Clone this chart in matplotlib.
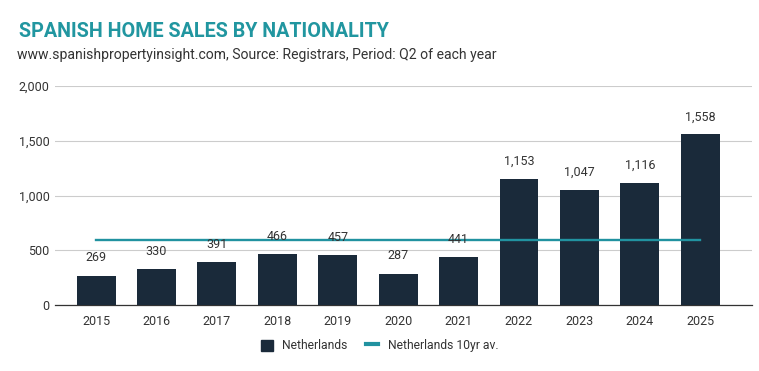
import matplotlib
matplotlib.use("Agg")
import matplotlib.pyplot as plt
from matplotlib.lines import Line2D
from matplotlib.patches import Patch

plt.rcParams['font.family'] = ['Roboto', 'DejaVu Sans']

years = ["2015", "2016", "2017", "2018", "2019", "2020", "2021", "2022", "2023", "2024", "2025"]
sales = [269, 330, 391, 466, 457, 287, 441, 1153, 1047, 1116, 1558]
avg_10yr = [596] * len(years)

bar_color = "#1a2a3a"
line_color = "#2192a0"
text_color = "#333333"

fig = plt.figure(figsize=(7.59, 3.71), dpi=100)
ax = fig.add_axes([0.0725, 0.178, 0.9185, 0.59])

x = list(range(len(years)))
ax.bar(x, sales, width=0.645, color=bar_color, zorder=3)
ax.plot(x, avg_10yr, color=line_color, linewidth=1.7, zorder=4)

for xi, v in zip(x, sales):
    ax.annotate(f"{v:,}", (xi, v), xytext=(0, 8), textcoords="offset points",
                ha="center", va="bottom", fontsize=9, color=text_color, zorder=5)

ax.set_ylim(0, 2000)
ax.set_xlim(-0.68, 10.86)
ax.set_yticks([0, 500, 1000, 1500, 2000])
ax.set_yticklabels(["0", "500", "1,000", "1,500", "2,000"])
ax.set_xticks(x)
ax.set_xticklabels(years)
ax.tick_params(axis='both', length=0, labelsize=9, colors=text_color)
ax.tick_params(axis='y', pad=4)
ax.tick_params(axis='x', pad=7)
ax.grid(axis='y', color="#cccccc", linewidth=0.8, zorder=0)
for s in ["top", "right", "left"]:
    ax.spines[s].set_visible(False)
ax.spines["bottom"].set_color("#333333")
ax.spines["bottom"].set_linewidth(0.9)

fig.text(0.025, 0.916, "SPANISH HOME SALES BY NATIONALITY", fontsize=14.2, fontweight="bold",
         color="#2196a0", va="center", ha="left")
fig.text(0.022, 0.852, "www.spanishpropertyinsight.com, Source: Registrars, Period: Q2 of each year",
         fontsize=10.05, color="#333333", va="center", ha="left")

handles = [Patch(facecolor=bar_color, edgecolor=bar_color),
           Line2D([0], [0], color=line_color, linewidth=3)]
fig.legend(handles, ["Netherlands", "Netherlands 10yr av."], loc="center",
           bbox_to_anchor=(0.5, 0.068), ncol=2, frameon=False, fontsize=8.7,
           handlelength=1.0, handleheight=1.0, columnspacing=1.5, handletextpad=0.8,
           labelcolor=text_color)

fig.savefig("out.png", dpi=100)
